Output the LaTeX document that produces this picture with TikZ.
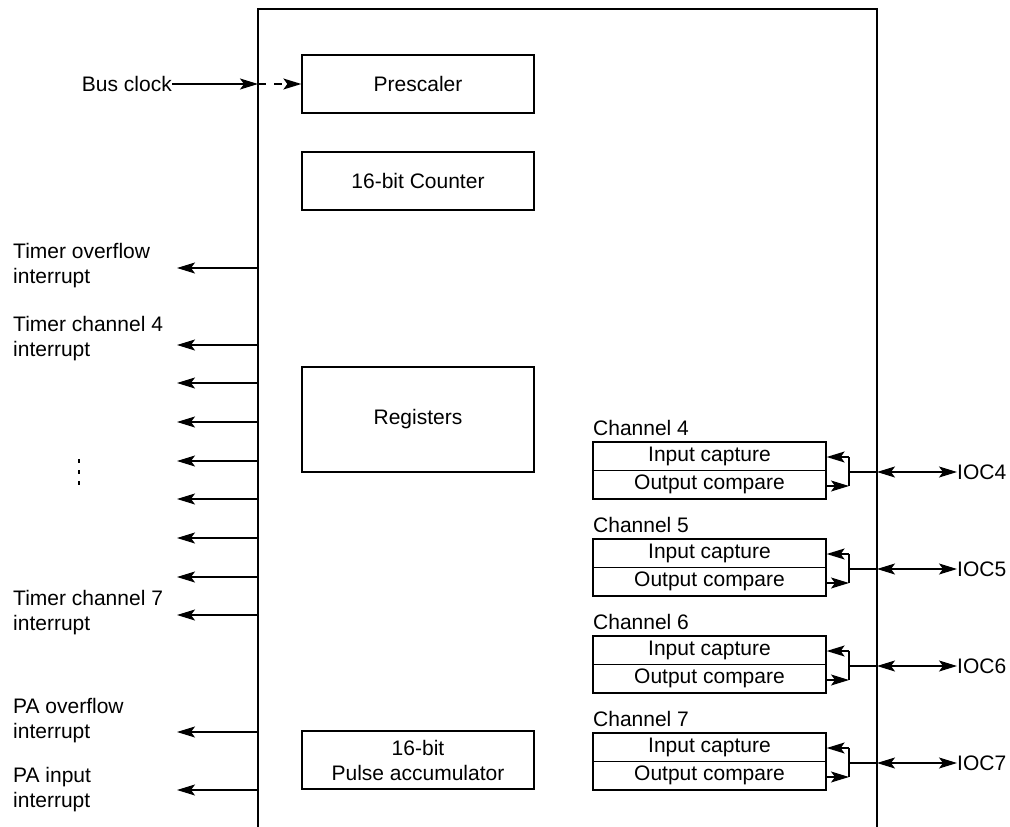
\documentclass[tikz,border=0pt]{standalone}
\usepackage{fontspec}
\setmainfont{Liberation Sans}
\usetikzlibrary{arrows.meta}
\begin{document}
\begin{tikzpicture}[x=1pt,y=-1pt,
  font=\fontsize{21}{25}\selectfont,
  blk/.style={draw, line width=1.3pt, minimum width=232pt, inner sep=0pt, align=center},
  half/.style={draw, line width=1.3pt, minimum width=233pt, minimum height=28.5pt, inner sep=0pt},
  lbl/.style={inner sep=0pt, align=left, anchor=west},
  ln/.style={line width=1.3pt},
  arr/.style={line width=1.3pt, -{Stealth[length=18pt,width=11pt,inset=4pt]}},
  dbl/.style={line width=1.3pt, {Stealth[length=18pt,width=11pt,inset=4pt]}-{Stealth[length=18pt,width=11pt,inset=4pt]}}]
\useasboundingbox (0,0) rectangle (1010,827);
% main box (open at bottom)
\coordinate (mbl) at (258,827);
\coordinate (mtl) at (258,9);
\coordinate (mtr) at (877,9);
\coordinate (mbr) at (877,827);
\draw[line width=1.6pt] (mbl) -- (mtl) -- (mtr) -- (mbr);
% inner blocks
\node[blk, minimum height=58pt] (pre) at (418,84) {Prescaler};
\node[blk, minimum height=58pt] (cnt) at (418,181) {16-bit Counter};
\node[blk, minimum height=105pt] (reg) at (418,419.5) {Registers};
\node[blk, minimum height=58pt] (pa) at (418,760) {16-bit\\Pulse accumulator};
% bus clock
\node[inner sep=0pt, anchor=east] (bus) at (172,84) {Bus clock};
\coordinate (clkin) at (258,84);
\draw[arr] (bus.east) -- (clkin);
\draw[arr, dash pattern=on 8pt off 8pt] (clkin) -- (pre.west);
% left outputs
\foreach \i/\y in {1/268,2/345,3/383,4/422,5/461,6/499,7/538,8/577,9/615,10/732,11/790}{
  \coordinate (o\i) at (258,\y);
  \coordinate (t\i) at (177,\y);
  \draw[arr] (o\i) -- (t\i);
}
\node[lbl] (l1) at (13,266) {Timer overflow\\interrupt};
\node[lbl] (l2) at (13,339) {Timer channel 4\\interrupt};
\node[lbl] (l3) at (13,613) {Timer channel 7\\interrupt};
\node[lbl] (l4) at (13,721) {PA overflow\\interrupt};
\node[lbl] (l5) at (13,790) {PA input\\interrupt};
% vertical ellipsis
\foreach \y in {461,472,483}{
  \fill (78.2,\y-1.8) rectangle (79.8,\y+1.8);
}
% channels
\foreach \c/\T in {4/442,5/539,6/636,7/733}{
  \node[half] (ic\c) at (709.5,\T+14.25) {Input capture};
  \node[half] (oc\c) at (709.5,\T+42.75) {Output compare};
  \node[inner sep=0pt, anchor=base west] (ch\c) at (593,\T-7) {Channel \c};
  \coordinate (bk\c) at (849,\T+30);
  \coordinate (bt\c) at (849,\T+15);
  \coordinate (bb\c) at (849,\T+44);
  \coordinate (ed\c) at (877,\T+30);
  \node[inner sep=0pt, anchor=west] (io\c) at (957,\T+30) {IOC\c};
  \draw[arr] (bt\c) -- (ic\c.east |- bt\c);
  \draw[arr] (oc\c.east |- bb\c) -- (bb\c);
  \draw[ln] (bt\c) -- (bb\c);
  \draw[ln] (bk\c) -- (ed\c);
  \draw[dbl] (ed\c) -- (io\c.west);
}
\end{tikzpicture}
\end{document}
